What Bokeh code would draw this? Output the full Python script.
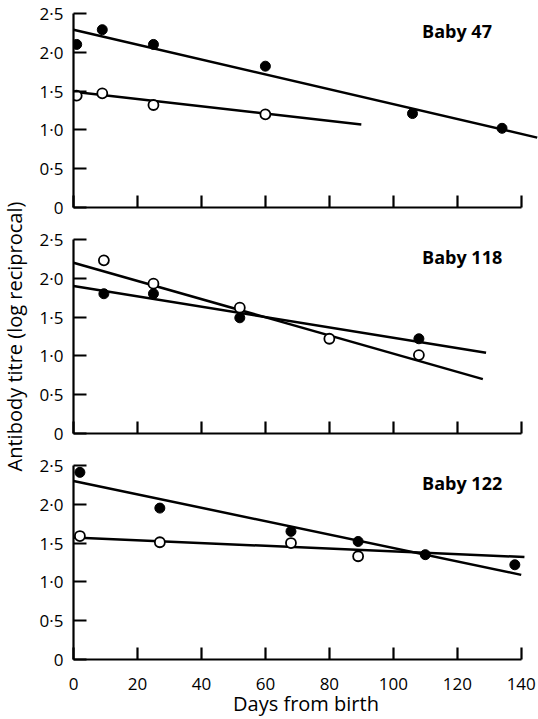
import math
from bokeh.plotting import figure
from bokeh.models import Range1d, FixedTicker, Label
from bokeh.layouts import column, row
from bokeh.embed import file_html
from bokeh.resources import INLINE

# ---- data ----
x_ticks = [0, 20, 40, 60, 80, 100, 120, 140]
x_tick_labels = ["0", "20", "40", "60", "80", "100", "120", "140"]
y_ticks = [0, 0.5, 1.0, 1.5, 2.0, 2.5]
y_tick_labels = ["0", "0·5", "1·0", "1·5", "2·0", "2·5"]

baby_names = ["Baby 47", "Baby 118", "Baby 122"]
x_title = "Days from birth"
y_title = "Antibody titre (log reciprocal)"

# Baby 47
b47_filled_days = [1, 9, 25, 60, 106, 134]
b47_filled_titre = [2.10, 2.29, 2.10, 1.82, 1.21, 1.02]
b47_open_days = [1, 9, 25, 60]
b47_open_titre = [1.44, 1.47, 1.32, 1.20]
b47_filled_fit_days = [0, 145]
b47_filled_fit_titre = [2.29, 0.90]
b47_open_fit_days = [0, 90]
b47_open_fit_titre = [1.49, 1.07]

# Baby 118
b118_filled_days = [9.5, 25, 52, 108]
b118_filled_titre = [1.80, 1.80, 1.49, 1.22]
b118_open_days = [9.5, 25, 52, 80, 108]
b118_open_titre = [2.23, 1.93, 1.62, 1.22, 1.01]
b118_filled_fit_days = [0, 129]
b118_filled_fit_titre = [1.90, 1.04]
b118_open_fit_days = [0, 128]
b118_open_fit_titre = [2.20, 0.70]

# Baby 122
b122_filled_days = [2, 27, 68, 89, 110, 138]
b122_filled_titre = [2.41, 1.95, 1.65, 1.52, 1.35, 1.22]
b122_open_days = [2, 27, 68, 89]
b122_open_titre = [1.59, 1.51, 1.50, 1.33]
b122_filled_fit_days = [0, 140]
b122_filled_fit_titre = [2.30, 1.09]
b122_open_fit_days = [0, 141]
b122_open_fit_titre = [1.57, 1.32]

FONT = "Open Sans"
LABEL_W = 28
TOTAL_H = 719


def make_panel(name, fdays, ftitre, odays, otitre, ffx, ffy, ofx, ofy,
               bottom, bottom_panel=False):
    p = figure(frame_width=465, frame_height=198,
               x_range=Range1d(0, 145.4), y_range=Range1d(0, 2.55),
               output_backend="svg", toolbar_location=None,
               min_border_left=73 - LABEL_W, min_border_right=0,
               min_border_top=9, min_border_bottom=bottom)
    p.outline_line_color = None
    p.grid.visible = False
    p.background_fill_color = "white"
    p.border_fill_color = "white"

    xa = p.xaxis[0]
    xa.ticker = FixedTicker(ticks=x_ticks)
    xa.bounds = (0, 140)
    xa.axis_line_width = 2.2
    xa.axis_line_color = "black"
    xa.major_tick_line_width = 2.2
    xa.major_tick_in = 12
    xa.major_tick_out = 0
    xa.minor_tick_line_color = None
    xa.minor_tick_out = 0
    xa.minor_tick_in = 0
    if bottom_panel:
        xa.major_label_overrides = dict(zip(x_ticks, x_tick_labels))
        xa.major_label_text_font = FONT
        xa.major_label_text_font_size = "17px"
        xa.major_label_text_color = "black"
        xa.major_label_standoff = 18
        xa.axis_label = x_title
        xa.axis_label_text_font = FONT
        xa.axis_label_text_font_size = "20px"
        xa.axis_label_text_font_style = "normal"
        xa.axis_label_text_color = "black"
        xa.axis_label_standoff = -3
    else:
        # upper panels: ticks only, no tick labels
        xa.major_label_overrides = {t: "" for t in x_ticks}
        xa.major_label_text_font_size = "0px"
        xa.major_label_standoff = 0

    ya = p.yaxis[0]
    ya.ticker = FixedTicker(ticks=y_ticks)
    ya.major_label_overrides = dict(zip(y_ticks, y_tick_labels))
    ya.bounds = (0, 2.5)
    ya.axis_line_width = 2.2
    ya.axis_line_color = "black"
    ya.major_tick_line_width = 2.2
    ya.major_tick_in = 13
    ya.major_tick_out = 0
    ya.minor_tick_line_color = None
    ya.minor_tick_out = 0
    ya.minor_tick_in = 0
    ya.major_label_text_font = FONT
    ya.major_label_text_font_size = "17px"
    ya.major_label_text_color = "black"
    ya.major_label_standoff = 10

    p.line(ffx, ffy, line_width=2.5, line_color="black")
    p.line(ofx, ofy, line_width=2.5, line_color="black")
    p.scatter(odays, otitre, size=10, marker="circle",
              fill_color="white", line_color="black", line_width=1.8)
    p.scatter(fdays, ftitre, size=10, marker="circle",
              fill_color="black", line_color="black")

    p.add_layout(Label(x=109, y=2.27, text=name, text_font=FONT,
                       text_font_size="18px", text_font_style="bold",
                       text_color="black", text_align="left",
                       text_baseline="middle"))
    return p


p1 = make_panel(baby_names[0], b47_filled_days, b47_filled_titre,
                b47_open_days, b47_open_titre,
                b47_filled_fit_days, b47_filled_fit_titre,
                b47_open_fit_days, b47_open_fit_titre, bottom=19)
p2 = make_panel(baby_names[1], b118_filled_days, b118_filled_titre,
                b118_open_days, b118_open_titre,
                b118_filled_fit_days, b118_filled_fit_titre,
                b118_open_fit_days, b118_open_fit_titre, bottom=19)
p3 = make_panel(baby_names[2], b122_filled_days, b122_filled_titre,
                b122_open_days, b122_open_titre,
                b122_filled_fit_days, b122_filled_fit_titre,
                b122_open_fit_days, b122_open_fit_titre,
                bottom=60, bottom_panel=True)

# narrow strip holding the shared y-axis title
lab = figure(width=LABEL_W, height=TOTAL_H, x_range=Range1d(0, 1),
             y_range=Range1d(0, TOTAL_H), output_backend="svg",
             toolbar_location=None, min_border=0)
lab.axis.visible = False
lab.grid.visible = False
lab.outline_line_color = None
lab.add_layout(Label(x=0.5, y=TOTAL_H - 336, text=y_title, text_font=FONT,
                     text_font_size="20px", text_color="black",
                     angle=math.pi / 2, text_align="center",
                     text_baseline="middle"))

layout = row(lab, column(p1, p2, p3, spacing=0), spacing=0)

open("out.html", "w").write(file_html(layout, INLINE))
